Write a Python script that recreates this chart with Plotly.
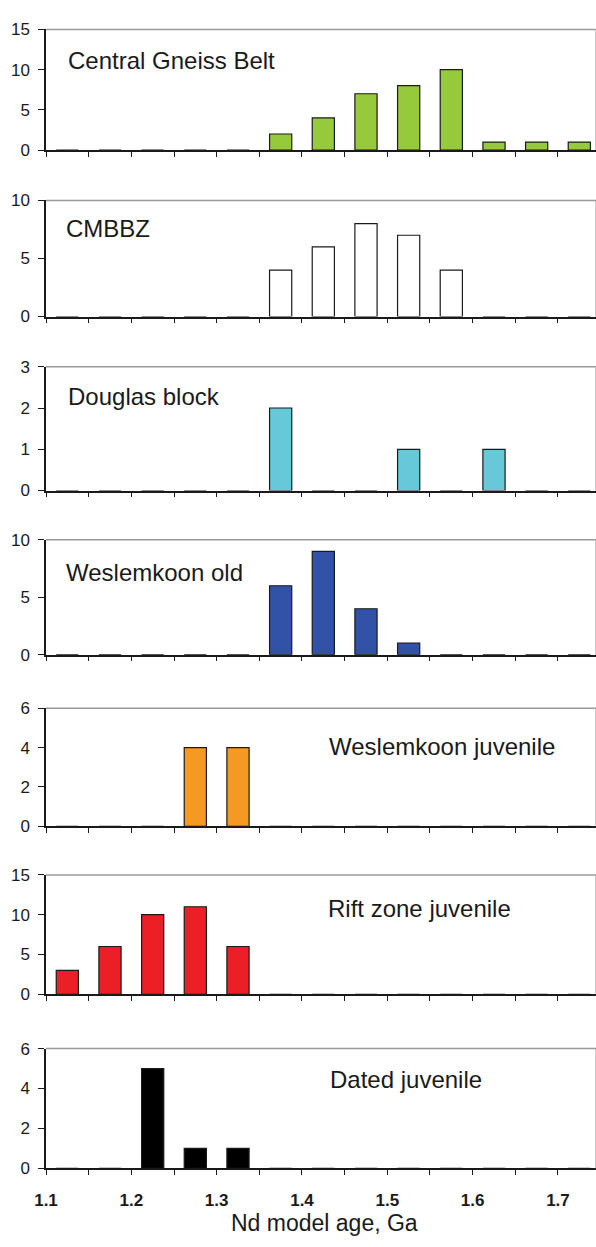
import plotly.graph_objects as go

# Centres (Ga) of the 0.05 Ga Nd model-age classes
bin_centers = [1.125, 1.175, 1.225, 1.275, 1.325, 1.375, 1.425,
               1.475, 1.525, 1.575, 1.625, 1.675, 1.725]

# Number of samples per class for each domain
central_gneiss_belt = [0, 0, 0, 0, 0, 2, 4, 7, 8, 10, 1, 1, 1]
cmbbz = [0, 0, 0, 0, 0, 4, 6, 8, 7, 4, 0, 0, 0]
douglas_block = [0, 0, 0, 0, 0, 2, 0, 0, 1, 0, 1, 0, 0]
weslemkoon_old = [0, 0, 0, 0, 0, 6, 9, 4, 1, 0, 0, 0, 0]
weslemkoon_juvenile = [0, 0, 0, 4, 4, 0, 0, 0, 0, 0, 0, 0, 0]
rift_zone_juvenile = [3, 6, 10, 11, 6, 0, 0, 0, 0, 0, 0, 0, 0]
dated_juvenile = [0, 0, 5, 1, 1, 0, 0, 0, 0, 0, 0, 0, 0]

panel_names = ["Central Gneiss Belt", "CMBBZ", "Douglas block", "Weslemkoon old",
               "Weslemkoon juvenile", "Rift zone juvenile", "Dated juvenile"]
panel_counts = [central_gneiss_belt, cmbbz, douglas_block, weslemkoon_old,
                weslemkoon_juvenile, rift_zone_juvenile, dated_juvenile]
panel_ymax = [15, 10, 3, 10, 6, 15, 6]
panel_dtick = [5, 5, 1, 5, 2, 5, 2]
panel_colors = ["#97C93D", "#FFFFFF", "#67C8DA", "#3152A6", "#F49A22", "#EC1F26", "#000000"]

x_title = "Nd model age, Ga"

# ---- page geometry (pixels) ----
W, H = 596, 1247
L, R, T, B = 46, 0, 0, 0
# plot-area top/bottom of each panel
panel_px = [(20.7, 143.3), (194.4, 312.3), (363.3, 489.0), (539.0, 655.7),
            (710.0, 830.0), (879.3, 1000.5), (1055.7, 1177.3)]
# panel caption anchor (left x, vertical centre y)
label_px = [(66, 52), (64, 223), (66, 393), (64, 572),
            (327, 749), (326, 913), (328, 1087)]
PX_PER_GA = 853.3
X0 = 1.1
X1 = X0 + (W - L - R) / PX_PER_GA


def fx(px):
    return (px - L) / (W - L - R)


def fy(py):
    return 1 - (py - T) / (H - T - B)


FONT = "Liberation Sans, Arial, sans-serif"
INK = "#1a1a1a"

fig = go.Figure()
n = len(panel_names)
shapes = []
annotations = []
for i in range(n):
    k = "" if i == 0 else str(i + 1)
    fig.add_trace(go.Bar(
        x=bin_centers, y=panel_counts[i], width=0.026,
        marker=dict(color=panel_colors[i], line=dict(color=INK, width=1.2)),
        xaxis="x" + k, yaxis="y" + k, showlegend=False, name=panel_names[i],
    ))
    top, bot = panel_px[i]
    last = i == n - 1
    fig.layout["xaxis" + k] = dict(
        domain=[0, 1], anchor="y" + k, range=[X0, X1],
        tick0=1.1, dtick=0.1, tickformat=".1f",
        ticks="outside", ticklen=5, tickwidth=1.3, tickcolor=INK,
        minor=dict(tick0=1.1, dtick=0.05, ticks="outside", ticklen=5,
                   tickwidth=1.3, tickcolor=INK, showgrid=False),
        showticklabels=last, ticklabelstandoff=10,
        tickfont=dict(family=FONT, size=17, color=INK, weight="bold"),
        showline=True, linecolor=INK, linewidth=1.5,
        showgrid=False, zeroline=False, fixedrange=True,
    )
    fig.layout["yaxis" + k] = dict(
        domain=[fy(bot), fy(top)], anchor="x" + k,
        range=[0, panel_ymax[i]], dtick=panel_dtick[i], tick0=0,
        ticks="outside", ticklen=6, tickwidth=1.3, tickcolor=INK,
        ticklabelstandoff=5,
        tickfont=dict(family=FONT, size=17, color=INK),
        showline=True, linecolor=INK, linewidth=1.5,
        showgrid=False, zeroline=False, fixedrange=True,
    )
    # grey frame along top and right of each plot area
    shapes.append(dict(type="line", xref="x" + k + " domain", yref="y" + k + " domain",
                       x0=0, x1=1, y0=1, y1=1, line=dict(color="#9a9a9a", width=1.5)))
    shapes.append(dict(type="line", xref="x" + k + " domain", yref="y" + k + " domain",
                       x0=1, x1=1, y0=0, y1=1, line=dict(color="#b5b5b5", width=1.5)))
    lx, ly = label_px[i]
    annotations.append(dict(text=panel_names[i], xref="paper", yref="paper",
                            x=fx(lx), y=fy(ly), xanchor="left", yanchor="middle",
                            showarrow=False, font=dict(family=FONT, size=24, color=INK)))

annotations.append(dict(text=x_title, xref="paper", yref="paper",
                        x=fx(324), y=fy(1233), xanchor="center", yanchor="middle",
                        showarrow=False, font=dict(family=FONT, size=23, color=INK)))

fig.update_layout(
    width=W, height=H,
    margin=dict(l=L, r=R, t=T, b=B, pad=0),
    paper_bgcolor="white", plot_bgcolor="white",
    shapes=shapes, annotations=annotations,
    showlegend=False,
)

fig.write_html("out.html", config={"displayModeBar": False},
               post_script="document.body.style.margin='0';document.body.style.overflow='hidden';")
